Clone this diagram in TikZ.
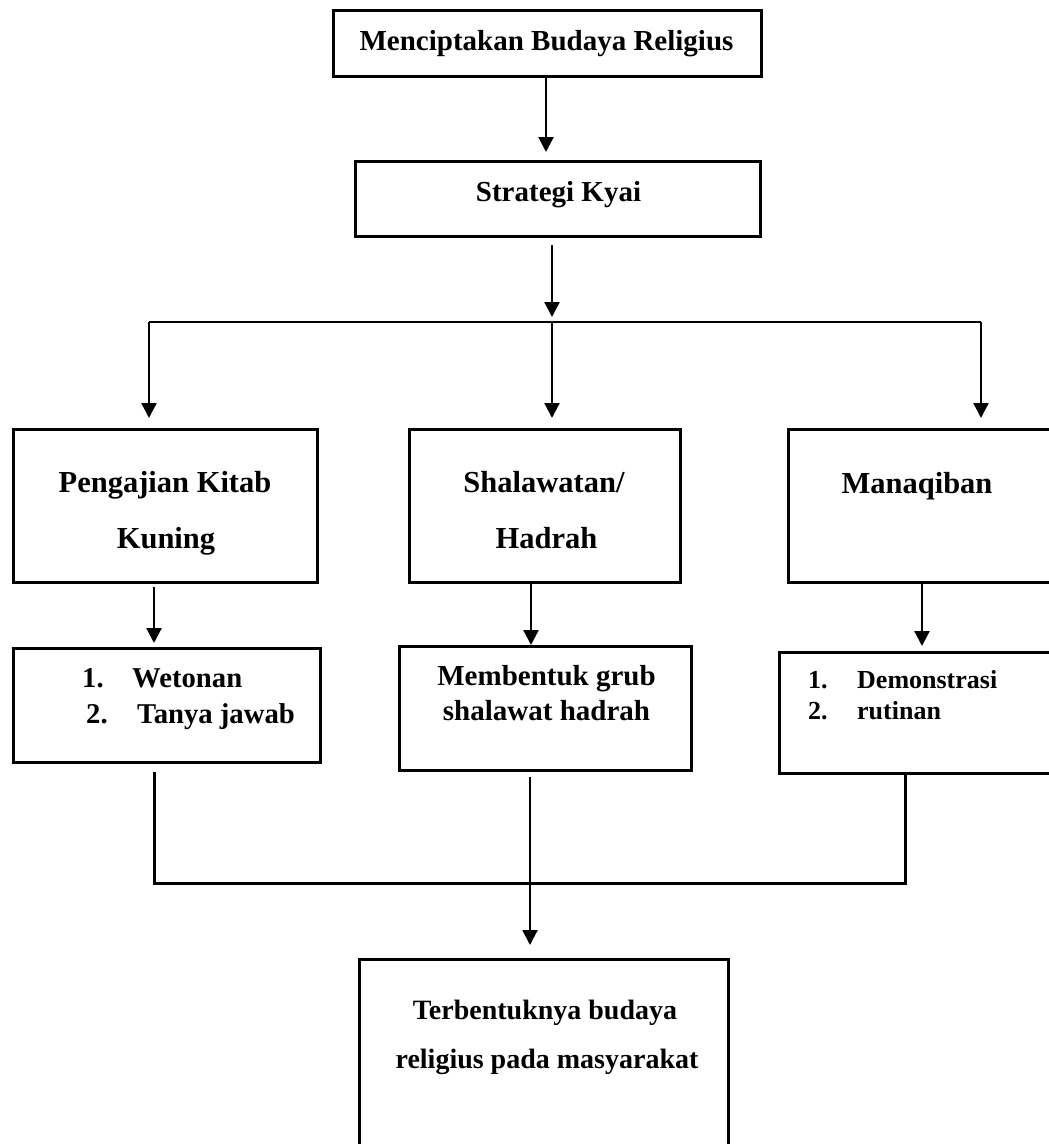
\documentclass[tikz,border=0pt]{standalone}
\usepackage{fontspec}
\setmainfont{Liberation Serif}
\usetikzlibrary{arrows.meta}
\begin{document}
\begin{tikzpicture}[x=1pt,y=-1pt,
  box/.style={draw, line width=3pt, rectangle, inner sep=0pt},
  arr/.style={line width=2.2pt, -{Triangle[length=15pt,width=15pt]}},
  conn/.style={line width=3pt},
  thinline/.style={line width=1.4pt},
  lbl/.style={anchor=base, inner sep=0pt, font=\bfseries\fontsize{29}{35}\selectfont},
  lblbig/.style={lbl, font=\bfseries\fontsize{30.5}{35}\selectfont},
  lblsmall/.style={anchor=base west, inner sep=0pt, font=\bfseries\fontsize{26}{30}\selectfont},
  lblleft/.style={anchor=base west, inner sep=0pt, font=\bfseries\fontsize{28.7}{35}\selectfont},
  lblbot/.style={lbl, font=\bfseries\fontsize{28}{35}\selectfont}
]
\useasboundingbox (0,0) rectangle (1049,1144);
\clip (0,0) rectangle (1049,1144);

% boxes
\node[box, minimum width=428pt, minimum height=66pt] (top)   at (547.5,43.5) {};
\node[box, minimum width=405pt, minimum height=75pt] (strat) at (558,199) {};
\node[box, minimum width=304pt, minimum height=153pt] (kitab) at (165.5,506) {};
\node[box, minimum width=271pt, minimum height=153pt] (shal)  at (545,506) {};
\node[box, minimum width=270pt, minimum height=153pt] (manaq) at (923.5,506) {};
\node[box, minimum width=307pt, minimum height=114pt] (wet)   at (167,705.5) {};
\node[box, minimum width=292pt, minimum height=124pt] (grub)  at (545.5,708.5) {};
\node[box, minimum width=279pt, minimum height=121pt] (demo)  at (919,713) {};
\node[box, minimum width=369pt, minimum height=199pt] (hasil) at (544,1059) {};

% texts
\node[lbl] (ttop) at (546.5,50) {Menciptakan Budaya Religius};
\node[lbl] (tstrat) at (558.5,201) {Strategi Kyai};
\node[lblbig] (tkitab1) at (165,492) {Pengajian Kitab};
\node[lblbig] (tkitab2) at (166,548) {Kuning};
\node[lblbig] (tshal1) at (544,492) {Shalawatan/};
\node[lblbig] (tshal2) at (546.5,548) {Hadrah};
\node[lblbig] (tmanaq) at (917,493) {Manaqiban};
\node[lblleft] (twet1) at (82,687) {1.\hspace{28.5pt}Wetonan};
\node[lblleft] (twet2) at (86,723) {2.\hspace{29.5pt}Tanya jawab};
\node[lbl] (tgrub1) at (546.5,685) {Membentuk grub};
\node[lbl] (tgrub2) at (546.5,720) {shalawat hadrah};
\node[lblsmall] (tdemo1) at (808,688) {1.\hspace{29.5pt}Demonstrasi};
\node[lblsmall] (tdemo2) at (808,719) {2.\hspace{29.5pt}rutinan};
\node[lblbot] (thasil1) at (545,1019) {Terbentuknya budaya};
\node[lblbot] (thasil2) at (547,1068) {religius pada masyarakat};

% coordinates
\coordinate (t1) at (546,152);
\coordinate (s2) at (552,245);
\coordinate (t2) at (552,317);
\coordinate (hl) at (149,322);
\coordinate (hm) at (552,322);
\coordinate (hr) at (981,322);
\coordinate (k1) at (149,418);
\coordinate (k2) at (552,418);
\coordinate (k3) at (981,418);
\coordinate (s4) at (154,587);
\coordinate (t4) at (154,643);
\coordinate (t5) at (531,645);
\coordinate (t6) at (922,646);
\coordinate (s7) at (154,772);
\coordinate (b1) at (154,883);
\coordinate (b2) at (905,883);
\coordinate (s9) at (530,777);
\coordinate (t9) at (530,945);

% connectors
\draw[arr] (top.south -| t1) -- (t1);
\draw[arr] (s2) -- (t2);
\draw[thinline] (hl) -- (hr);
\draw[arr] (hl) -- (k1);
\draw[arr] (hm) -- (k2);
\draw[arr] (hr) -- (k3);
\draw[arr] (s4) -- (t4);
\draw[arr] (shal.south -| t5) -- (t5);
\draw[arr] (manaq.south -| t6) -- (t6);
\draw[conn] (s7) -- (b1) -- (b2) -- (demo.south -| b2);
\draw[arr] (s9) -- (t9);
\end{tikzpicture}
\end{document}
